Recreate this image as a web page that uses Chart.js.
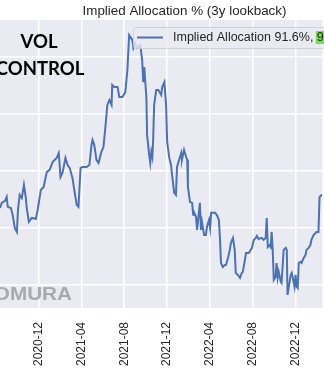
<!DOCTYPE html>
<html>
<head>
<meta charset="utf-8">
<script src="https://cdn.jsdelivr.net/npm/chart.js@4.4.1/dist/chart.umd.min.js"></script>
<style>
  html, body { margin: 0; padding: 0; background: #fff; }
  canvas { display: block; }
</style>
</head>
<body>
<canvas id="alloc" width="324" height="369"></canvas>
<script>
// implied allocation (%) by date
const dates = [
  "2020-08-13","2020-08-18","2020-08-27","2020-09-01","2020-09-04","2020-09-13","2020-09-18","2020-09-24","2020-09-30",
  "2020-10-03","2020-10-08","2020-10-14","2020-10-20","2020-10-25","2020-10-28","2020-11-03","2020-11-11","2020-11-23",
  "2020-11-28","2020-12-07","2020-12-15","2020-12-24","2021-01-01","2021-01-10","2021-01-21","2021-01-27","2021-02-01",
  "2021-02-07","2021-02-15","2021-02-21","2021-02-27","2021-03-07","2021-03-13","2021-03-19","2021-03-24","2021-03-30",
  "2021-04-05","2021-04-16","2021-04-24","2021-04-30","2021-05-03","2021-05-08","2021-05-14","2021-05-20","2021-05-28",
  "2021-06-03","2021-06-09","2021-06-14","2021-06-20","2021-06-26","2021-06-28","2021-07-04","2021-07-13","2021-07-18",
  "2021-07-27","2021-08-04","2021-08-10","2021-08-15","2021-08-24","2021-08-27","2021-09-01","2021-09-07","2021-09-16",
  "2021-09-18","2021-09-21","2021-09-24","2021-09-27","2021-10-03","2021-10-05","2021-10-11","2021-10-14","2021-10-17",
  "2021-10-20","2021-10-22","2021-10-25","2021-10-31","2021-11-06","2021-11-14","2021-11-17","2021-11-23","2021-11-28",
  "2021-12-01","2021-12-07","2021-12-12","2021-12-15","2021-12-21","2021-12-26","2021-12-29","2022-01-04","2022-01-10",
  "2022-01-12","2022-01-18","2022-01-24","2022-01-27","2022-01-29","2022-02-04","2022-02-10","2022-02-13","2022-02-15",
  "2022-02-21","2022-02-24","2022-02-27","2022-03-04","2022-03-07","2022-03-10","2022-03-16","2022-03-21","2022-03-24",
  "2022-03-30","2022-04-02","2022-04-05","2022-04-16","2022-04-21","2022-04-27","2022-04-30","2022-05-03","2022-05-08",
  "2022-05-14","2022-05-17","2022-05-23","2022-05-28","2022-05-31","2022-06-06","2022-06-11","2022-06-14","2022-06-20",
  "2022-06-26","2022-07-01","2022-07-04","2022-07-10","2022-07-13","2022-07-21","2022-07-30","2022-08-04","2022-08-10",
  "2022-08-13","2022-08-18","2022-08-27","2022-09-01","2022-09-07","2022-09-10","2022-09-13","2022-09-18","2022-09-21",
  "2022-09-24","2022-09-27","2022-09-30","2022-10-05","2022-10-08","2022-10-11","2022-10-14","2022-10-20","2022-10-22",
  "2022-10-25","2022-10-28","2022-11-03","2022-11-06","2022-11-08","2022-11-14","2022-11-17","2022-11-20","2022-11-23",
  "2022-11-28","2022-12-01","2022-12-04","2022-12-07","2022-12-10","2022-12-15","2022-12-18","2022-12-24","2022-12-29",
  "2023-01-01","2023-01-07","2023-01-12","2023-01-15","2023-01-21","2023-01-27","2023-01-29","2023-02-04","2023-02-07",
  "2023-02-13","2023-02-15"
];
const allocation = [
  87.0, 88.8, 89.5, 90.9, 87.4, 87.0, 84.6, 80.0, 78.6,
  86.3, 91.6, 90.5, 95.1, 90.9, 87.0, 82.1, 83.5, 83.2,
  86.3, 93.3, 94.4, 99.6, 100.4, 103.2, 104.6, 106.3, 97.9,
  99.6, 104.6, 102.1, 101.1, 97.5, 92.6, 88.1, 87.4, 101.1,
  101.4, 101.4, 102.1, 109.1, 110.9, 109.1, 103.9, 102.8, 106.7,
  108.4, 116.1, 123.2, 124.9, 123.2, 130.2, 129.5, 129.5, 126.0,
  126.0, 127.7, 135.4, 147.7, 146.0, 143.2, 144.9, 143.2, 144.2,
  141.8, 138.9, 131.2, 136.5, 125.6, 112.6, 105.6, 102.8, 106.7,
  104.9, 110.2, 123.2, 128.4, 128.4, 126.7, 129.5, 131.2, 123.2,
  110.2, 104.6, 102.1, 98.6, 92.3, 91.6, 101.4, 103.9, 106.3,
  103.9, 107.4, 104.9, 103.9, 94.4, 89.1, 88.8, 84.6, 85.6,
  83.9, 79.3, 82.8, 88.8, 79.3, 82.1, 77.5, 77.5, 80.4,
  82.8, 80.0, 85.3, 85.3, 84.6, 82.8, 76.5, 67.7, 66.3,
  67.0, 67.0, 69.5, 72.3, 74.7, 76.5, 72.3, 64.2, 63.5,
  62.5, 64.2, 64.6, 68.8, 71.2, 71.2, 73.0, 75.8, 76.5,
  77.2, 76.1, 76.5, 75.8, 76.5, 83.5, 73.3, 74.0, 73.3,
  78.6, 72.3, 61.8, 62.8, 67.7, 62.5, 64.6, 61.1, 60.7,
  66.3, 72.3, 73.0, 72.3, 56.5, 61.1, 63.5, 64.2, 62.5,
  59.3, 63.5, 59.3, 58.9, 67.7, 68.1, 67.7, 69.5, 70.5,
  72.3, 73.0, 74.0, 75.8, 77.5, 78.2, 78.6, 78.6, 90.9,
  91.6, 91.6
];
const tickDates = ["2020-12-01","2021-04-01","2021-08-01","2021-12-01","2022-04-01","2022-08-01","2022-12-01"];
const tickLabels = ["2020-12","2021-04","2021-08","2021-12","2022-04","2022-08","2022-12"];
const gridLevels = [60, 80, 100, 120, 140];
const viewStart = "2020-08-13";
const viewEnd = "2023-02-15";

const day = s => Date.parse(s) / 864e5;
const latest = allocation[allocation.length - 1];
const sans = '"Liberation Sans", Arial, sans-serif';

// axes background, title, stamp text and legend
const panel = {
  id: 'panel',
  beforeDraw(chart) {
    const { ctx, chartArea: a } = chart;
    ctx.save();
    ctx.fillStyle = '#eaeaf2';
    ctx.fillRect(a.left, a.top, a.right - a.left, a.bottom - a.top);
    ctx.fillStyle = '#262626';
    ctx.font = '13.4px ' + sans;
    ctx.textAlign = 'center';
    ctx.textBaseline = 'alphabetic';
    ctx.fillText('Implied Allocation % (3y lookback)', 184.5, 15);
    ctx.restore();
  },
  afterDatasetsDraw(chart) {
    const { ctx } = chart;
    ctx.save();

    // watermark, stretched a little wider
    ctx.save();
    ctx.scale(1.15, 1);
    ctx.fillStyle = '#a9a9ae';
    ctx.font = 'bold 18px ' + sans;
    ctx.textAlign = 'right';
    ctx.fillText('NOMURA', 72 / 1.15, 300);
    ctx.restore();

    ctx.fillStyle = '#000';
    ctx.font = 'bold 18.5px Lato, "Open Sans", sans-serif';
    ctx.textAlign = 'center';
    ctx.fillText('VOL', 39, 48);
    ctx.fillText('CONTROL', 40, 74.5);

    // legend box
    ctx.beginPath();
    ctx.roundRect(133.5, 27.5, 240, 21, 3);
    ctx.fillStyle = 'rgba(234,234,242,0.8)';
    ctx.fill();
    ctx.strokeStyle = 'rgba(204,204,204,0.8)';
    ctx.lineWidth = 1;
    ctx.stroke();

    ctx.beginPath();
    ctx.moveTo(137, 37.5);
    ctx.lineTo(163, 37.5);
    ctx.strokeStyle = '#4c72b0';
    ctx.lineWidth = 2;
    ctx.stroke();

    const label = 'Implied Allocation ' + latest.toFixed(1) + '%, ';
    ctx.font = '12.5px ' + sans;
    ctx.textAlign = 'left';
    ctx.fillStyle = '#262626';
    ctx.fillText(label, 173, 41);
    const w = ctx.measureText(label).width;
    ctx.fillStyle = '#78db5a';
    ctx.fillRect(173 + w - 1, 31, 60, 13);
    ctx.fillStyle = '#262626';
    ctx.fillText('9', 173 + w, 41);

    ctx.restore();
  }
};

new Chart(document.getElementById('alloc'), {
  type: 'line',
  data: {
    datasets: [{
      label: 'Implied Allocation',
      data: dates.map((d, i) => ({ x: day(d), y: allocation[i] })),
      borderColor: '#4c72b0',
      borderWidth: 2,
      pointRadius: 0,
      tension: 0
    }]
  },
  options: {
    responsive: false,
    animation: false,
    devicePixelRatio: 1,
    layout: { padding: { top: 20, left: 0, right: 0, bottom: 0 } },
    plugins: {
      legend: { display: false },
      title: { display: false },
      tooltip: { enabled: false }
    },
    scales: {
      x: {
        type: 'linear',
        min: day(viewStart),
        max: day(viewEnd),
        afterBuildTicks: s => { s.ticks = tickDates.map(d => ({ value: day(d) })); },
        afterFit: s => { s.height = 61; },
        grid: { color: '#fff', lineWidth: 1.5, drawTicks: false },
        border: { display: false },
        ticks: {
          autoSkip: false,
          minRotation: 90,
          maxRotation: 90,
          padding: 14,
          color: '#262626',
          font: { family: sans, size: 12 },
          callback: (v, i) => tickLabels[i]
        }
      },
      y: {
        min: 51.9,
        max: 153,
        afterBuildTicks: s => { s.ticks = gridLevels.map(v => ({ value: v })); },
        afterFit: s => { s.width = 0; },
        grid: { color: '#fff', lineWidth: 1.5, drawTicks: false },
        border: { display: false },
        ticks: { display: false }
      }
    }
  },
  plugins: [panel]
});
</script>
</body>
</html>
